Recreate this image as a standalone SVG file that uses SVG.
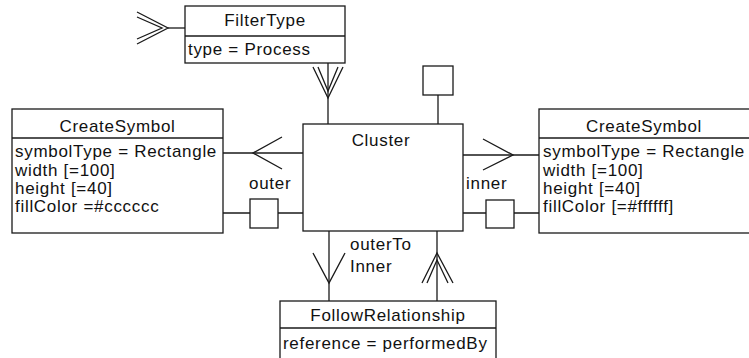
<svg xmlns="http://www.w3.org/2000/svg" width="749" height="358" viewBox="0 0 749 358">
<style>
rect.n{fill:#fff;stroke:#1a1a1a;stroke-width:1.3}
line,polyline{stroke:#1a1a1a;stroke-width:1.3;fill:none}
text{font-family:"Liberation Sans",Arial,sans-serif;font-size:17px;fill:#111;letter-spacing:0.7px}
.c{text-anchor:middle}
</style>
<rect width="749" height="358" fill="#fff"/>
<g id="connectors">
<line x1="168" y1="28" x2="185" y2="28"/>
<polyline points="137,12 168,28 137,44"/>
<polyline points="137,17 162,28 137,39"/>
<line x1="328" y1="63" x2="328" y2="124"/>
<polyline points="313,67 328,98 343,67"/>
<polyline points="318,67 328,91 338,67"/>
<line x1="438" y1="95" x2="438" y2="124"/>
<line x1="223" y1="153" x2="303" y2="153"/>
<polyline points="282,137 253,153 282,169"/>
<line x1="223" y1="213" x2="303" y2="213"/>
<line x1="463" y1="155" x2="539" y2="155"/>
<polyline points="483,139 513,155 483,170"/>
<line x1="463" y1="213" x2="539" y2="213"/>
<line x1="329" y1="231" x2="329" y2="301"/>
<polyline points="313,253 329,283 345,253"/>
<line x1="437" y1="231" x2="437" y2="301"/>
<polyline points="422,283 437,253 453,283"/>
<polyline points="427,283 437,260 448,283"/>
<text x="249" y="189">outer</text>
<text x="466" y="189">inner</text>
<text x="350" y="250">outerTo</text>
<text x="350" y="272">Inner</text>
</g>
<g id="sq-top"><rect class="n" x="423" y="66" width="30" height="29"/></g>
<g id="sq-left"><rect class="n" x="250" y="199" width="28" height="29"/></g>
<g id="sq-right"><rect class="n" x="486" y="200" width="28" height="28"/></g>
<g id="filterType">
<rect class="n" x="185" y="6" width="160" height="57"/>
<line x1="185" y1="36" x2="345" y2="36"/>
<text class="c" x="265" y="26">FilterType</text>
<text x="188" y="55">type = Process</text>
</g>
<g id="cluster">
<rect class="n" x="303" y="124" width="160" height="107"/>
<text class="c" x="381" y="146">Cluster</text>
</g>
<g id="createSymbolLeft">
<rect class="n" x="12" y="109" width="211" height="124"/>
<line x1="12" y1="138" x2="223" y2="138"/>
<text class="c" x="117.5" y="132">CreateSymbol</text>
<text x="15" y="157">symbolType = Rectangle</text>
<text x="15" y="176">width [=100]</text>
<text x="15" y="194">height [=40]</text>
<text x="15" y="212">fillColor =#cccccc</text>
</g>
<g id="createSymbolRight">
<rect class="n" x="539" y="109" width="211" height="124"/>
<line x1="539" y1="138" x2="750" y2="138"/>
<text class="c" x="644" y="132">CreateSymbol</text>
<text x="543" y="157">symbolType = Rectangle</text>
<text x="543" y="176">width [=100]</text>
<text x="543" y="194">height [=40]</text>
<text x="543" y="212">fillColor [=#ffffff]</text>
</g>
<g id="followRelationship">
<rect class="n" x="280" y="301" width="216" height="70"/>
<line x1="280" y1="328" x2="496" y2="328"/>
<text class="c" x="388" y="321">FollowRelationship</text>
<text x="283" y="349">reference = performedBy</text>
</g>
</svg>
